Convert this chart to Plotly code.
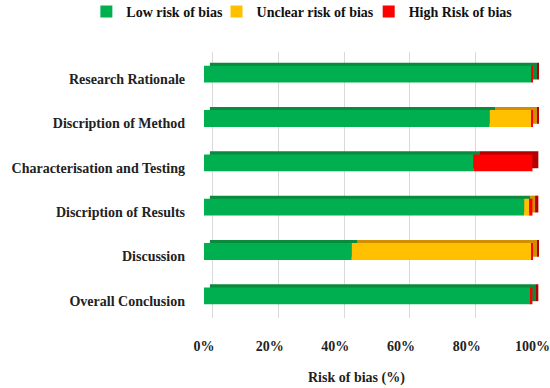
import plotly.graph_objects as go

categories = ["Research Rationale", "Discription of Method", "Characterisation and Testing",
              "Discription of Results", "Discussion", "Overall Conclusion"]
low = [99.6, 87, 82, 97.5, 45, 99.4]
unclear = [0, 12.6, 0, 1.5, 54.6, 0]
high = [0.4, 0.4, 18, 1, 0.4, 0.6]
tick_vals = [0, 20, 40, 60, 80, 100]
tick_text = ["0%", "20%", "40%", "60%", "80%", "100%"]

series = [
    ("Low risk of bias", low, "#00B050", "#0A8A3C", "legend"),
    ("Unclear risk of bias", unclear, "#FFC000", "#D08E00", "legend2"),
    ("High Risk of bias", high, "#FF0000", "#B00000", "legend3"),
]

FONT = "Liberation Serif"
W = 0.38      # front face thickness (category units)
DY = 0.07     # depth upward
DX = 1.8      # depth rightward (x units)
PX0, PXW = 204, 334.6  # plot left & width in px (for legend placement)

bases = []
acc = [0] * len(categories)
for s in series:
    bases.append(list(acc))
    acc = [a + v for a, v in zip(acc, s[1])]

fig = go.Figure()
for (name, vals, c, d, lg), b in zip(series, bases):
    fig.add_trace(go.Bar(
        y=categories, x=vals, base=[bb + DX for bb in b], orientation="h",
        width=W, offset=-W / 2 - DY, marker=dict(color=d, line=dict(width=0)),
        showlegend=False, hoverinfo="skip"))
for (name, vals, c, d, lg), b in zip(series, bases):
    fig.add_trace(go.Bar(
        y=categories, x=vals, base=b, orientation="h", name=name, legend=lg,
        width=W, offset=-W / 2, marker=dict(color=c, line=dict(width=0))))

# invisible helper trace to show back-wall gridlines (shifted)
fig.add_trace(go.Scatter(x=[0], y=[categories[0]], xaxis="x2", mode="markers",
                         marker=dict(opacity=0), showlegend=False, hoverinfo="skip"))

legfont = dict(family=FONT, size=14, color="#111111", weight="bold")
def leg(px):
    return dict(orientation="h", x=(px - 19.5 - PX0) / PXW, xanchor="left",
                y=(318 - 12) / 266, yanchor="middle", font=legfont, itemwidth=30,
                bgcolor="rgba(0,0,0,0)")

fig.update_layout(
    width=550, height=388,
    barmode="overlay",
    paper_bgcolor="white", plot_bgcolor="white",
    margin=dict(l=204, r=11, t=52, b=70, autoexpand=False),
    font=dict(family=FONT, size=14, color="#222222", weight="bold"),
    legend=leg(106), legend2=leg(236), legend3=leg(388),
    xaxis=dict(range=[0, 102], tickvals=tick_vals, ticktext=tick_text,
               showgrid=False, zeroline=False,
               showline=False, ticks="", ticklabelstandoff=18,
               tickfont=dict(family=FONT, size=14, color="#222222", weight="bold")),
    xaxis2=dict(range=[-2.7, 99.3], overlaying="x", tickvals=tick_vals, showticklabels=False,
                showgrid=True, gridcolor="#D9D9D9", gridwidth=1, zeroline=False,
                showline=False, ticks=""),
    yaxis=dict(autorange="reversed", showgrid=False, showline=False, ticks="",
               ticklabelstandoff=18, ticklabelshift=-5,
               tickfont=dict(family=FONT, size=14, color="#222222", weight="bold")),
    annotations=[dict(text="Risk of bias (%)", xref="paper", yref="paper",
                      x=(356 - 204) / 334.6, y=-(378 - 318) / 266, xanchor="center",
                      yanchor="middle", showarrow=False,
                      font=dict(family=FONT, size=14, color="#222222", weight="bold"))],
)

fig.write_html("out.html", config={"displayModeBar": False},
               post_script="document.body.style.margin='0';document.body.style.overflow='hidden';")
